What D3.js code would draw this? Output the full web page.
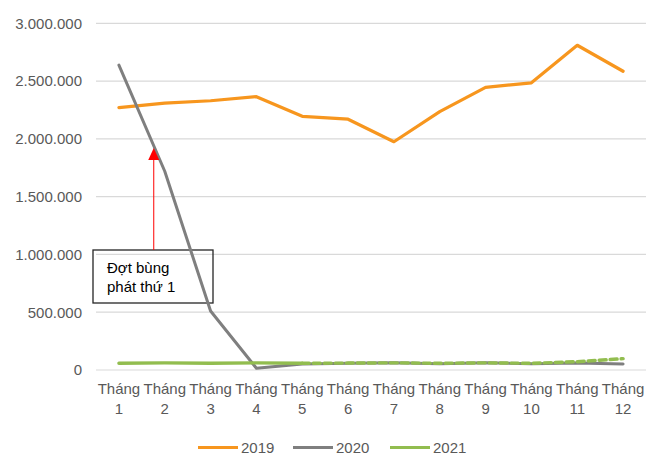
<!DOCTYPE html>
<html>
<head>
<meta charset="utf-8">
<script src="https://cdn.jsdelivr.net/npm/d3@7"></script>
<style>
  html, body { margin: 0; padding: 0; background: #fff; }
  svg { display: block; font-family: "Liberation Sans", Arial, sans-serif; }
</style>
</head>
<body>
<svg id="chart" width="648" height="456"></svg>
<script>
// Monthly figures by year
const months = ["Tháng 1","Tháng 2","Tháng 3","Tháng 4","Tháng 5","Tháng 6",
                "Tháng 7","Tháng 8","Tháng 9","Tháng 10","Tháng 11","Tháng 12"];
const values2019 = [2270000, 2310000, 2330000, 2365000, 2195000, 2170000,
                    1975000, 2235000, 2445000, 2485000, 2810000, 2585000];
const values2020 = [2638000, 1720000, 510000, 15000, 52000, 58000,
                    62000, 55000, 62000, 55000, 60000, 52000];
const values2021 = [58000, 62000, 58000, 62000, 58000, 60000,
                    62000, 58000, 62000, 58000, 72000, 98000];
// 2021 is drawn solid up to this month index, dashed afterwards
const solidUntil2021 = 4;
const yTicks = [0, 500000, 1000000, 1500000, 2000000, 2500000, 3000000];
const seriesNames = ["2019", "2020", "2021"];
const seriesColors = ["#F7961E", "#7F7F7F", "#92BD4F"];
const noteLines = ["Đợt bùng", "phát thứ 1"];
const noteTarget = { month: 0, offset: 0.76, value: 1920000 };

const svg = d3.select("#chart");
const plotLeft = 96, plotRight = 646, plotTop = 23.3, plotBottom = 370;
const fontSize = 15;

const x = d3.scaleBand().domain(months).range([plotLeft, plotRight]);
const cx = m => x(m) + x.bandwidth() / 2;
const y = d3.scaleLinear().domain([0, 3000000]).range([plotBottom, plotTop]);

const loc = d3.formatLocale({ decimal: ",", thousands: ".", grouping: [3], currency: ["", ""] });
const fmt = loc.format(",");

// gridlines
svg.append("g").selectAll("line").data(yTicks).join("line")
  .attr("x1", plotLeft).attr("x2", plotRight)
  .attr("y1", d => y(d)).attr("y2", d => y(d))
  .attr("stroke", "#D9D9D9").attr("stroke-width", 1.2);

// y-axis labels
const yAxis = d3.axisLeft(y).tickValues(yTicks).tickFormat(fmt).tickSize(0).tickPadding(0);
const gy = svg.append("g").attr("transform", `translate(82,0)`).call(yAxis);
gy.select(".domain").remove();
gy.selectAll("text").attr("font-size", fontSize).attr("fill", "#595959")
  .attr("font-family", "Liberation Sans, Arial, sans-serif");

// x-axis labels (two lines each)
const gx = svg.append("g");
months.forEach(m => {
  const parts = m.split(" ");
  const t = gx.append("text").attr("text-anchor", "middle")
    .attr("font-size", fontSize).attr("fill", "#595959");
  t.append("tspan").attr("x", cx(m)).attr("y", 393.5).text(parts[0]);
  t.append("tspan").attr("x", cx(m)).attr("y", 413.5).text(parts[1]);
});

// annotation: note box (unfilled) with an arrow up to the 2020 decline
const ax = cx(months[noteTarget.month]) + noteTarget.offset * x.step();
const ay = y(noteTarget.value);
const boxTop = 250, boxLeft = 93, boxW = 120, boxH = 53;
svg.append("rect").attr("x", boxLeft).attr("y", boxTop)
  .attr("width", boxW).attr("height", boxH)
  .attr("fill", "none").attr("stroke", "#262626").attr("stroke-width", 1.3);
noteLines.forEach((s, i) => {
  svg.append("text").attr("x", boxLeft + 14).attr("y", boxTop + 23 + i * 19)
    .attr("font-size", fontSize).attr("fill", "#000").text(s);
});

const line = d3.line().x(d => cx(months[d.i])).y(d => y(d.v));
const pts = arr => arr.map((v, i) => ({ i, v }));

// 2019
svg.append("path").datum(pts(values2019)).attr("d", line)
  .attr("fill", "none").attr("stroke", seriesColors[0]).attr("stroke-width", 3.2)
  .attr("stroke-linejoin", "round").attr("stroke-linecap", "round");
// 2020
svg.append("path").datum(pts(values2020)).attr("d", line)
  .attr("fill", "none").attr("stroke", seriesColors[1]).attr("stroke-width", 3)
  .attr("stroke-linejoin", "round").attr("stroke-linecap", "round");
// 2021 solid part
const p21 = pts(values2021);
svg.append("path").datum(p21.slice(0, solidUntil2021 + 1)).attr("d", line)
  .attr("fill", "none").attr("stroke", seriesColors[2]).attr("stroke-width", 3.4)
  .attr("stroke-linejoin", "round").attr("stroke-linecap", "round");
// 2021 dashed part
svg.append("path").datum(p21.slice(solidUntil2021)).attr("d", line)
  .attr("fill", "none").attr("stroke", seriesColors[2]).attr("stroke-width", 3.4)
  .attr("stroke-dasharray", "7,4").attr("stroke-linecap", "round");

// arrow
svg.append("line").attr("x1", ax).attr("x2", ax)
  .attr("y1", boxTop).attr("y2", ay + 10)
  .attr("stroke", "#FF0000").attr("stroke-width", 1);
svg.append("path")
  .attr("d", `M${ax},${ay} L${ax - 5.5},${ay + 12} L${ax + 5.5},${ay + 12} Z`)
  .attr("fill", "#FF0000");

// legend
const legendX = [198, 293, 390];
seriesNames.forEach((n, i) => {
  svg.append("line").attr("x1", legendX[i]).attr("x2", legendX[i] + 40)
    .attr("y1", 447.5).attr("y2", 447.5)
    .attr("stroke", seriesColors[i]).attr("stroke-width", 3);
  svg.append("text").attr("x", legendX[i] + 43).attr("y", 452.5)
    .attr("font-size", fontSize).attr("fill", "#595959").text(n);
});
</script>
</body>
</html>
